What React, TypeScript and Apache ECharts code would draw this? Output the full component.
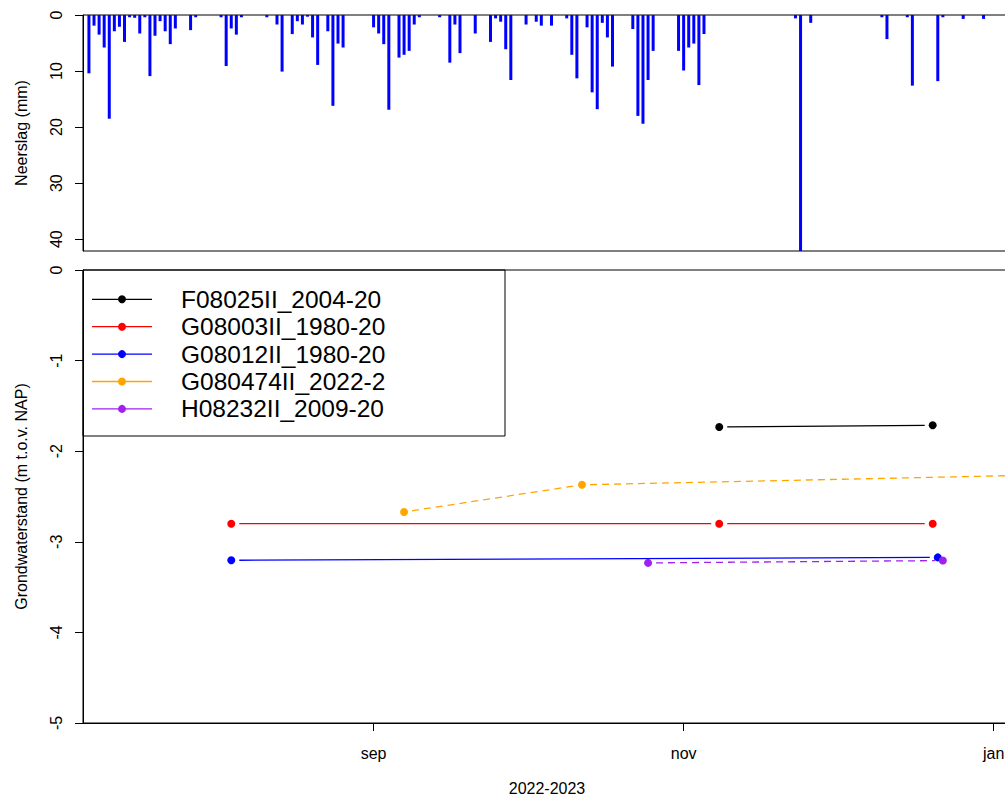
import React, { useEffect, useRef } from 'react';
import * as echarts from 'echarts';

// Time window shown on both panels
const axisStart = Date.UTC(2022, 6, 5, 20);
const axisEnd = Date.UTC(2023, 0, 4, 9, 40);

// Labelled month ticks on the lower axis
const monthTicks = ['2022-09-01', '2022-11-01', '2023-01-01'];
const monthNames = ['jan', 'feb', 'mrt', 'apr', 'mei', 'jun', 'jul', 'aug', 'sep', 'okt', 'nov', 'dec'];

// Daily precipitation (mm), only days with rain
const rainDates = [
  '2022-07-07', '2022-07-08', '2022-07-09', '2022-07-10', '2022-07-11', '2022-07-12', '2022-07-13',
  '2022-07-14', '2022-07-15', '2022-07-16', '2022-07-17', '2022-07-18', '2022-07-19', '2022-07-20',
  '2022-07-21', '2022-07-22', '2022-07-23', '2022-07-24', '2022-07-27', '2022-07-28',
  '2022-08-02', '2022-08-03', '2022-08-04', '2022-08-05', '2022-08-06', '2022-08-11', '2022-08-13',
  '2022-08-14', '2022-08-16', '2022-08-17', '2022-08-18', '2022-08-19', '2022-08-20', '2022-08-21',
  '2022-08-23', '2022-08-24', '2022-08-25', '2022-08-26',
  '2022-09-01', '2022-09-02', '2022-09-03', '2022-09-04', '2022-09-06', '2022-09-07', '2022-09-08',
  '2022-09-09', '2022-09-10', '2022-09-14', '2022-09-16', '2022-09-17', '2022-09-18', '2022-09-21',
  '2022-09-24', '2022-09-25', '2022-09-26', '2022-09-27', '2022-09-28',
  '2022-10-01', '2022-10-03', '2022-10-04', '2022-10-06', '2022-10-09', '2022-10-10', '2022-10-11',
  '2022-10-13', '2022-10-14', '2022-10-15', '2022-10-16', '2022-10-17', '2022-10-18', '2022-10-22',
  '2022-10-23', '2022-10-24', '2022-10-25', '2022-10-26', '2022-10-31',
  '2022-11-01', '2022-11-02', '2022-11-03', '2022-11-04', '2022-11-05', '2022-11-23', '2022-11-24',
  '2022-11-26',
  '2022-12-10', '2022-12-11', '2022-12-15', '2022-12-16', '2022-12-21', '2022-12-22', '2022-12-26',
  '2022-12-30',
];
const rainMm = [
  10.4, 1.9, 3.5, 5.8, 18.5, 2.9, 2.1,
  4.8, 0.4, 0.5, 3.3, 0.4, 10.9, 3.7,
  1.1, 2.9, 5.2, 2.4, 2.7, 0.4,
  0.4, 9.1, 2.4, 3.5, 0.4, 0.4, 1.7,
  10.1, 3.4, 1.1, 1.7, 0.3, 4.0, 8.9,
  2.9, 16.2, 5.1, 5.8,
  2.2, 3.3, 5.2, 16.9, 7.6, 7.1, 6.4,
  1.7, 0.4, 0.4, 8.5, 1.7, 6.8, 3.3,
  4.8, 0.6, 1.2, 6.1, 11.6,
  1.7, 1.2, 1.9, 1.9, 0.6, 7.1, 11.3,
  2.2, 13.8, 16.8, 1.4, 4.0, 9.2, 2.5,
  18.0, 19.4, 11.6, 6.4, 6.4,
  9.9, 5.8, 5.1, 12.5, 3.4, 0.6, 42.1,
  1.4,
  0.4, 4.3, 0.4, 12.6, 11.8, 0.4, 0.7,
  0.7,
];

// Groundwater observations (m t.o.v. NAP) per well
const stationNames = ['F08025II_2004-20', 'G08003II_1980-20', 'G08012II_1980-20', 'G080474II_2022-2', 'H08232II_2009-20'];
const stationColors = ['#000000', '#ff0000', '#0000ff', '#ffa500', '#a020f0'];
const stationDashed = [false, false, false, true, true];

const f08025Dates = ['2022-11-08', '2022-12-20'];
const f08025Levels = [-1.733, -1.714];
const g08003Dates = ['2022-08-04', '2022-11-08', '2022-12-20'];
const g08003Levels = [-2.80, -2.80, -2.80];
const g08012Dates = ['2022-08-04', '2022-12-21'];
const g08012Levels = [-3.204, -3.172];
const g080474Dates = ['2022-09-07', '2022-10-12', '2023-01-10'];
const g080474Levels = [-2.671, -2.371, -2.263];
const h08232Dates = ['2022-10-25', '2022-12-22'];
const h08232Levels = [-3.233, -3.207];

const stationDates = [f08025Dates, g08003Dates, g08012Dates, g080474Dates, h08232Dates];
const stationLevels = [f08025Levels, g08003Levels, g08012Levels, g080474Levels, h08232Levels];

const FONT = "'Liberation Sans', Arial, Helvetica, sans-serif";
const POINT_GAP = 8; // lines stop short of each point, like plot type "b"

function buildOption() {
  const tickTimes = monthTicks.map((d) => Date.parse(d));

  const rainSeries = {
    type: 'bar',
    xAxisIndex: 0,
    yAxisIndex: 0,
    barWidth: 3,
    itemStyle: { color: '#0000ff' },
    data: rainDates.map((d, i) => [Date.parse(d), rainMm[i]]),
    silent: true,
  };

  const lineSeries = stationNames.map((name, s) => {
    const dates = stationDates[s];
    const levels = stationLevels[s];
    const segs: number[][] = [];
    for (let i = 0; i < dates.length - 1; i++) {
      segs.push([Date.parse(dates[i]), levels[i], Date.parse(dates[i + 1]), levels[i + 1]]);
    }
    const color = stationColors[s];
    const dash = stationDashed[s] ? [7, 5] : null;
    return {
      type: 'custom',
      name: name + ' lijn',
      xAxisIndex: 1,
      yAxisIndex: 1,
      clip: true,
      silent: true,
      encode: { x: [0, 2], y: [1, 3] },
      data: segs,
      renderItem: (params: any, api: any) => {
        const p0 = api.coord([api.value(0), api.value(1)]);
        const p1 = api.coord([api.value(2), api.value(3)]);
        const dx = p1[0] - p0[0];
        const dy = p1[1] - p0[1];
        const len = Math.sqrt(dx * dx + dy * dy);
        if (len <= 2 * POINT_GAP) return null;
        const ux = dx / len;
        const uy = dy / len;
        return {
          type: 'line',
          shape: {
            x1: p0[0] + ux * POINT_GAP,
            y1: p0[1] + uy * POINT_GAP,
            x2: p1[0] - ux * POINT_GAP,
            y2: p1[1] - uy * POINT_GAP,
          },
          style: { stroke: color, lineWidth: 1.3, lineDash: dash, fill: null },
        };
      },
    };
  });

  const pointSeries = stationNames.map((name, s) => ({
    type: 'scatter',
    name,
    xAxisIndex: 1,
    yAxisIndex: 1,
    symbol: 'circle',
    symbolSize: 8,
    itemStyle: { color: stationColors[s], opacity: 1 },
    data: stationDates[s].map((d, i) => [Date.parse(d), stationLevels[s][i]]),
    silent: true,
  }));

  // Legend box drawn in the upper-left corner of the lower panel
  const legendTop = 299.3;
  const legendStep = 27.4;
  const legendElements: any[] = [
    {
      type: 'rect',
      shape: { x: 83, y: 270, width: 422, height: 166 },
      style: { fill: 'rgba(255,255,255,0)', stroke: '#000', lineWidth: 1 },
      z: 100,
    },
  ];
  stationNames.forEach((name, s) => {
    const y = legendTop + s * legendStep;
    legendElements.push(
      {
        type: 'line',
        shape: { x1: 92, y1: y, x2: 152, y2: y },
        style: { stroke: stationColors[s], lineWidth: 1.3 },
        z: 100,
      },
      {
        type: 'circle',
        shape: { cx: 122, cy: y, r: 4 },
        style: { fill: stationColors[s] },
        z: 100,
      },
      {
        type: 'text',
        x: 181,
        y,
        style: {
          text: name,
          fill: '#000',
          font: `24.5px ${FONT}`,
          verticalAlign: 'middle',
          align: 'left',
        },
        z: 100,
      }
    );
  });

  const axisLineStyle = { show: true, onZero: false, lineStyle: { color: '#000', width: 1 } };

  return {
    animation: false,
    backgroundColor: '#ffffff',
    textStyle: { fontFamily: FONT },
    grid: [
      { left: 83, top: 15, width: 928, height: 236, show: true, borderColor: '#000', borderWidth: 1, backgroundColor: 'rgba(0,0,0,0)' },
      { left: 83, top: 270, width: 928, height: 455, show: true, borderColor: '#000', borderWidth: 1, backgroundColor: 'rgba(0,0,0,0)' },
    ],
    xAxis: [
      { type: 'value', gridIndex: 0, min: axisStart, max: axisEnd, show: false, axisLine: { onZero: false } },
      {
        type: 'value',
        gridIndex: 1,
        position: 'bottom',
        min: axisStart,
        max: axisEnd,
        axisLine: axisLineStyle,
        axisTick: { show: true, length: 8, lineStyle: { color: '#000' }, customValues: tickTimes },
        axisLabel: {
          customValues: tickTimes,
          formatter: (v: number) => monthNames[new Date(v).getUTCMonth()],
          color: '#000',
          fontSize: 16,
          fontFamily: FONT,
          margin: 22,
        },
        splitLine: { show: false },
        name: '2022-2023',
        nameLocation: 'middle',
        nameGap: 57,
        nameTextStyle: { color: '#000', fontSize: 16, fontFamily: FONT },
      },
    ],
    yAxis: [
      {
        type: 'value',
        gridIndex: 0,
        inverse: true,
        min: 0,
        max: 42.1,
        interval: 10,
        axisLine: axisLineStyle,
        axisTick: { show: true, length: 8, lineStyle: { color: '#000' } },
        axisLabel: { rotate: 90, color: '#000', fontSize: 16, fontFamily: FONT, margin: 19 },
        splitLine: { show: false },
        name: 'Neerslag (mm)',
        nameLocation: 'middle',
        nameGap: 54,
        nameTextStyle: { color: '#000', fontSize: 16, fontFamily: FONT },
      },
      {
        type: 'value',
        gridIndex: 1,
        min: -5,
        max: 0,
        interval: 1,
        axisLine: axisLineStyle,
        axisTick: { show: true, length: 8, lineStyle: { color: '#000' } },
        axisLabel: { rotate: 90, color: '#000', fontSize: 16, fontFamily: FONT, margin: 19 },
        splitLine: { show: false },
        name: 'Grondwaterstand (m t.o.v. NAP)',
        nameLocation: 'middle',
        nameGap: 54,
        nameTextStyle: { color: '#000', fontSize: 16, fontFamily: FONT },
      },
    ],
    graphic: legendElements,
    series: [rainSeries, ...lineSeries, ...pointSeries],
  };
}

export default function App() {
  const ref = useRef<HTMLDivElement>(null);

  useEffect(() => {
    if (!ref.current) return;
    const chart = echarts.init(ref.current, null, { renderer: 'svg' });
    chart.setOption(buildOption() as any);
    return () => chart.dispose();
  }, []);

  return (
    <div
      style={{
        position: 'fixed',
        left: 0,
        top: 0,
        width: 1005,
        height: 801,
        overflow: 'hidden',
        background: '#ffffff',
      }}
    >
      <div ref={ref} style={{ width: 1030, height: 801 }} />
    </div>
  );
}
